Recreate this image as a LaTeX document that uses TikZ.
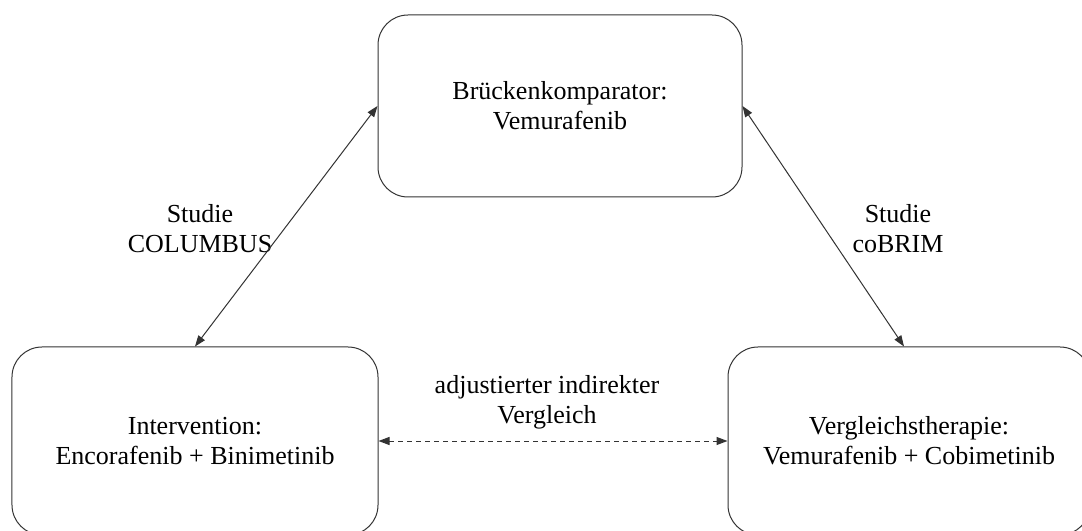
\documentclass[tikz,border=0pt]{standalone}
\usepackage{fontspec}
\setmainfont{Liberation Serif}
\usetikzlibrary{arrows.meta}
\begin{document}
\begin{tikzpicture}[x=1bp,y=-1bp,
  box/.style={draw=black!80,line width=1bp,rounded corners=30bp,align=center,
    inner sep=0pt,font=\fontsize{26bp}{30bp}\selectfont},
  lbl/.style={align=center,inner sep=0pt,font=\fontsize{26bp}{30bp}\selectfont},
  conn/.style={draw=black!80,line width=1bp,{Triangle[length=11bp,width=8bp]}-{Triangle[length=11bp,width=8bp]}}]
\useasboundingbox[fill=white] (0,0) rectangle (1082,531);
\node[box,minimum width=364bp,minimum height=182bp] (top) at (560,106) {Brückenkomparator:\\Vemurafenib};
\node[box,minimum width=366bp,minimum height=188bp] (left) at (195,441) {Intervention:\\Encorafenib + Binimetinib};
\node[box,minimum width=362bp,minimum height=188bp] (right) at (909,441) {Vergleichstherapie:\\Vemurafenib + Cobimetinib};
\node[lbl] (l1) at (200,229) {Studie\\COLUMBUS};
\node[lbl] (l2) at (898,229) {Studie\\coBRIM};
\node[lbl] (l3) at (547,402) {adjustierter indirekter\\Vergleich};
\draw[conn] (left.north) -- (top.west);
\draw[conn] (top.east) -- ([xshift=-5bp]right.north);
\draw[conn,dash pattern=on 5bp off 4bp] (left.east) -- (right.west);
\end{tikzpicture}
\end{document}
